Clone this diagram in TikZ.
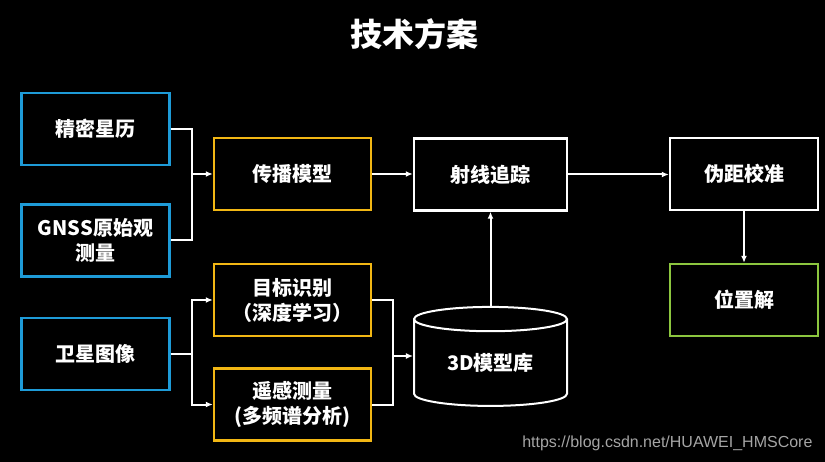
\documentclass[tikz,border=0pt]{standalone}
\usepackage{fontspec}
\setmainfont{Noto Sans CJK SC}
\newfontfamily\urlfont{Liberation Sans}
\usetikzlibrary{arrows.meta,shapes.geometric}

\definecolor{inblue}{RGB}{30,155,215}
\definecolor{midgold}{RGB}{242,183,20}
\definecolor{outgreen}{RGB}{140,198,63}
\definecolor{markgray}{RGB}{165,165,165}

\begin{document}
\begin{tikzpicture}[x=1pt, y=-1pt,
    box/.style={draw, line width=2.4pt, minimum width=148pt, minimum height=72pt,
        inner sep=0pt, align=center, text=white,
        font=\fontsize{20}{25}\selectfont\bfseries},
    dbshape/.style={cylinder, shape border rotate=90, draw=white, line width=2pt,
        minimum width=153pt, minimum height=99pt, aspect=0.28, inner sep=0pt,
        text=white, font=\fontsize{20}{25}\selectfont\bfseries},
    link/.style={draw=white, line width=2pt},
    linkto/.style={link, -{Latex[length=7pt,width=6pt]}}]

    % Background and title
    \fill[black] (0,0) rectangle (825,462);
    \useasboundingbox (0,0) rectangle (825,462);
    \node[text=white, font=\fontsize{32}{38}\selectfont\bfseries] (title) at (414,34) {技术方案};

    % Inputs
    \node[box, draw=inblue] (eph) at (95.5,129) {精密星历};
    \node[box, draw=inblue] (gnss) at (95.5,240.5) {GNSS原始观\\测量};
    \node[box, draw=inblue] (sat) at (95.5,354) {卫星图像};

    % Processing
    \node[box, draw=midgold, minimum width=157pt] (prop) at (292.5,174) {传播模型};
    \node[box, draw=midgold, minimum width=157pt] (target) at (292.5,300) {目标识别\\（深度学习）};
    \node[box, draw=midgold, minimum width=157pt] (remote) at (292.5,404.5) {遥感测量\\(多频谱分析)};
    \node[box, draw=white, minimum width=153pt] (ray) at (490.5,174.5) {射线追踪};
    \node[dbshape] (db) at (490.5,363) {3D模型库};

    % Output
    \node[box, draw=white] (pseudo) at (744,174) {伪距校准};
    \node[box, draw=outgreen] (fix) at (744,300) {位置解};

    % Junctions
    \coordinate (j1) at (192,174);
    \coordinate (j2) at (192,354);
    \coordinate (j3) at (393,356);

    % Connectors
    \draw[link] (eph.east) -| (j1);
    \draw[link] (gnss.east) -| (j1);
    \draw[linkto] (j1) -- (prop.west);
    \draw[link] (sat.east) -- (j2);
    \draw[linkto] (j2) |- (target.west);
    \draw[linkto] (j2) |- (remote.west);
    \draw[link] (target.east) -| (j3);
    \draw[link] (remote.east) -| (j3);
    \draw[linkto] (j3) -- (db.west |- j3);
    \draw[linkto] (prop.east) -- (ray.west |- prop.east);
    \draw[linkto] (db.top) -- (ray.south);
    \draw[linkto] (ray.east) -- (pseudo.west |- ray.east);
    \draw[linkto] (pseudo.south) -- (fix.north);

    % Watermark
    \node[anchor=east, text=markgray, font=\urlfont\fontsize{16}{18}\selectfont] (mark) at (816,443) {https://blog.csdn.net/HUAWEI\_HMSCore};
\end{tikzpicture}
\end{document}
